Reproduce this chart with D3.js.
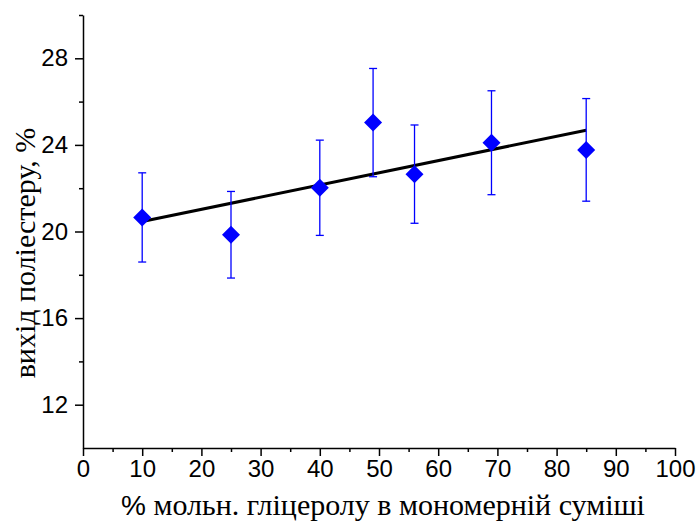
<!DOCTYPE html>
<html>
<head>
<meta charset="utf-8">
<script src="https://cdn.jsdelivr.net/npm/d3@7"></script>
<style>
  body { margin: 0; background: #fff; }
  .tick text { font-family: "Liberation Sans", Arial, sans-serif; font-size: 24px; fill: #000; }
  .axis path, .axis line { stroke: #000; stroke-width: 1.5; }
</style>
</head>
<body>
<svg id="chart" width="698" height="524"></svg>
<script>
// glycerol content, % mol
var glycerol = [10, 25, 40, 49, 56, 69, 85];
// polyester yield, %
var yieldPct = [20.65, 19.85, 22.02, 25.03, 22.65, 24.1, 23.77];
var yieldErr = [2.06, 2.0, 2.2, 2.5, 2.27, 2.4, 2.37];
// linear fit
var fitX = [10, 85];
var fitY = [20.46, 24.68];

var xTicks = [0, 10, 20, 30, 40, 50, 60, 70, 80, 90, 100];
var xMinor = [5, 15, 25, 35, 45, 55, 65, 75, 85, 95];
var yTicks = [12, 16, 20, 24, 28];
var yMinor = [14, 18, 22, 26, 30];

var svg = d3.select("#chart");
var plotL = 83, plotR = 675, plotT = 15, plotB = 448;

var x = d3.scaleLinear().domain([0, 100]).range([plotL, plotR]);
var y = d3.scaleLinear().domain([10, 30]).range([plotB, plotT]);

//minor ticks first, no labels
svg.append("g").attr("class", "axis")
  .attr("transform", "translate(0," + plotB + ")")
  .call(d3.axisBottom(x).tickValues(xMinor).tickSize(4).tickFormat(""))
  .select(".domain").remove();
svg.append("g").attr("class", "axis")
  .attr("transform", "translate(" + plotL + ",0)")
  .call(d3.axisLeft(y).tickValues(yMinor).tickSize(4).tickFormat(""))
  .select(".domain").remove();

svg.append("g").attr("class", "axis")
  .attr("transform", "translate(0," + plotB + ")")
  .call(d3.axisBottom(x).tickValues(xTicks).tickSize(8).tickSizeOuter(0).tickPadding(4));
svg.append("g").attr("class", "axis")
  .attr("transform", "translate(" + plotL + ",0)")
  .call(d3.axisLeft(y).tickValues(yTicks).tickSize(8).tickSizeOuter(0).tickPadding(7));

// fit line
svg.append("line")
  .attr("x1", x(fitX[0])).attr("y1", y(fitY[0]))
  .attr("x2", x(fitX[1])).attr("y2", y(fitY[1]))
  .attr("stroke", "#000").attr("stroke-width", 3);

// error bars
var pts = glycerol.map(function (d, i) { return { x: d, y: yieldPct[i], e: yieldErr[i] }; });
var eb = svg.append("g").attr("stroke", "#0000ff").attr("stroke-width", 1.3);
eb.selectAll(".bar").data(pts).enter().append("line")
  .attr("x1", function (d) { return x(d.x); }).attr("x2", function (d) { return x(d.x); })
  .attr("y1", function (d) { return y(d.y - d.e); }).attr("y2", function (d) { return y(d.y + d.e); });
eb.selectAll(".capT").data(pts).enter().append("line")
  .attr("x1", function (d) { return x(d.x) - 4; }).attr("x2", function (d) { return x(d.x) + 4; })
  .attr("y1", function (d) { return y(d.y + d.e); }).attr("y2", function (d) { return y(d.y + d.e); });
eb.selectAll(".capB").data(pts).enter().append("line")
  .attr("x1", function (d) { return x(d.x) - 4; }).attr("x2", function (d) { return x(d.x) + 4; })
  .attr("y1", function (d) { return y(d.y - d.e); }).attr("y2", function (d) { return y(d.y - d.e); });

// diamonds
svg.append("g").selectAll("path").data(pts).enter().append("path")
  .attr("d", "M0,-9L9,0L0,9L-9,0Z")
  .attr("transform", function (d) { return "translate(" + x(d.x) + "," + y(d.y) + ")"; })
  .attr("fill", "#0000ff");

// axis titles
var xt = svg.append("text")
  .attr("x", 383).attr("y", 515)
  .attr("text-anchor", "middle")
  .style("font-family", "'Liberation Serif', 'Times New Roman', serif")
  .style("font-size", "30px");
xt.append("tspan").style("font-family", "'Liberation Sans', Arial, sans-serif").style("font-size", "28px").text("%");
xt.append("tspan").text(" мольн. гліцеролу в мономерній суміші");

svg.append("text")
  .attr("transform", "translate(35," + 253 + ") rotate(-90)")
  .attr("text-anchor", "middle")
  .style("font-family", "'Liberation Serif', 'Times New Roman', serif")
  .style("font-size", "30px")
  .text("вихід поліестеру, %");
</script>
</body>
</html>
